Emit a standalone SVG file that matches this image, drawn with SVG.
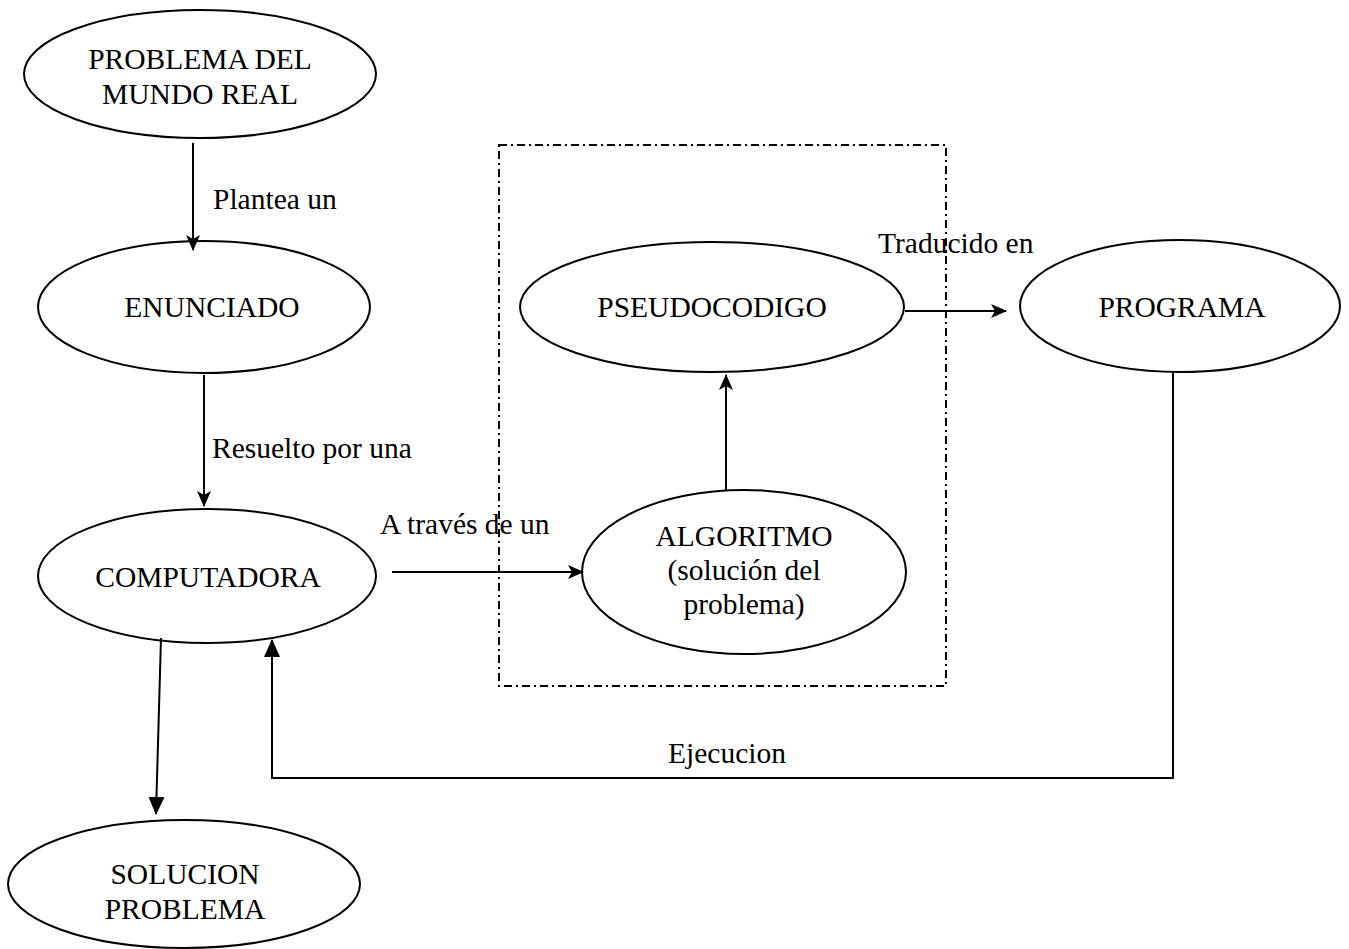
<svg xmlns="http://www.w3.org/2000/svg" width="1349" height="949" viewBox="0 0 1349 949">
<defs>
<style>
.n{fill:#fff;stroke:#000;stroke-width:2}
.t{font-family:"Liberation Serif","Times New Roman",serif;font-size:29.5px;fill:#000;text-anchor:middle}
.l{font-family:"Liberation Serif","Times New Roman",serif;font-size:29.5px;fill:#000}
.c{fill:none;stroke:#000;stroke-width:2}
</style>
<marker id="tri" markerWidth="18" markerHeight="18" refX="17" refY="9" orient="auto" markerUnits="userSpaceOnUse">
<path d="M0,1 L18,9 L0,17 z" fill="#000"/>
</marker>
<marker id="st" markerWidth="16" markerHeight="14" refX="15" refY="7" orient="auto" markerUnits="userSpaceOnUse">
<path d="M0,0 L16,7 L0,14 L4,7 z" fill="#000"/>
</marker>
</defs>
<rect width="1349" height="949" fill="#fff"/>
<g id="problema">
<ellipse class="n" cx="200" cy="74" rx="176" ry="64"/>
<text class="t" x="200" y="69">PROBLEMA DEL</text>
<text class="t" x="200" y="104">MUNDO REAL</text>
</g>
<g id="enunciado">
<ellipse class="n" cx="204" cy="307" rx="166" ry="66"/>
<text class="t" x="212" y="317">ENUNCIADO</text>
</g>
<g id="computadora">
<ellipse class="n" cx="207" cy="576" rx="169" ry="67"/>
<text class="t" x="208" y="587">COMPUTADORA</text>
</g>
<g id="solucion">
<ellipse class="n" cx="184" cy="884" rx="176" ry="64"/>
<text class="t" x="185" y="884">SOLUCION</text>
<text class="t" x="185" y="919">PROBLEMA</text>
</g>
<g id="algoritmo">
<ellipse class="n" cx="744" cy="572" rx="162" ry="82"/>
<text class="t" x="744" y="546">ALGORITMO</text>
<text class="t" x="744" y="580">(solución del</text>
<text class="t" x="744" y="614">problema)</text>
</g>
<g id="pseudocodigo">
<ellipse class="n" cx="712" cy="307" rx="192" ry="65"/>
<text class="t" x="712" y="317">PSEUDOCODIGO</text>
</g>
<g id="programa">
<ellipse class="n" cx="1180" cy="306" rx="160" ry="66"/>
<text class="t" x="1182" y="317">PROGRAMA</text>
</g>
<g id="boundary">
<rect x="499" y="145" width="447" height="541" fill="none" stroke="#000" stroke-width="2" stroke-dasharray="8,4,2,4"/>
</g>
<g id="connectors">
<line class="c" x1="193" y1="143" x2="193" y2="250" marker-end="url(#st)"/>
<line class="c" x1="204" y1="375" x2="204" y2="506" marker-end="url(#st)"/>
<line class="c" x1="161" y1="638" x2="156" y2="814" marker-end="url(#tri)"/>
<line class="c" x1="392" y1="572" x2="583" y2="572" marker-end="url(#st)"/>
<line class="c" x1="726" y1="490" x2="726" y2="375" marker-end="url(#st)"/>
<line class="c" x1="905" y1="311" x2="1006" y2="311" marker-end="url(#st)"/>
<polyline class="c" points="1173,373 1173,778 272,778 272,640" marker-end="url(#tri)"/>
<text class="l" x="213" y="209">Plantea un</text>
<text class="l" x="212" y="458">Resuelto por una</text>
<text class="l" x="380" y="534">A través de un</text>
<text class="l" x="878" y="253">Traducido en</text>
<text class="l" x="668" y="763">Ejecucion</text>
</g>
</svg>
